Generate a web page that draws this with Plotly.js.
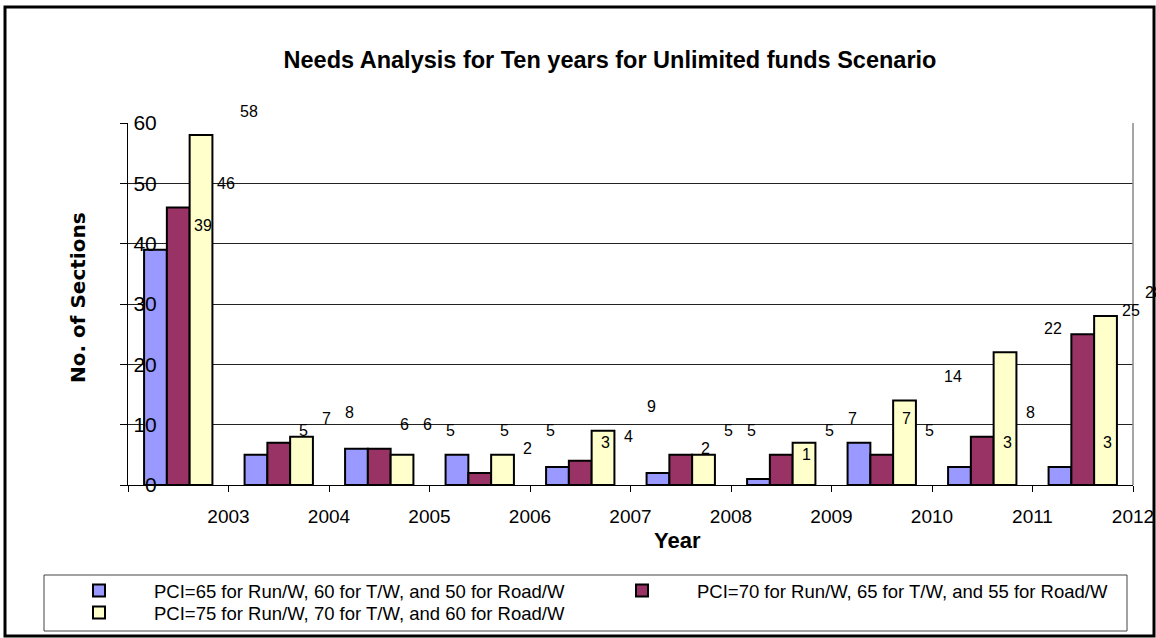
<!DOCTYPE html>
<html><head><meta charset="utf-8">
<script src="https://cdn.plot.ly/plotly-3.0.1.min.js"></script>
<style>html,body{margin:0;padding:0;background:#fff;overflow:hidden}#chart{width:1156px;height:638px}</style>
</head><body><div id="chart"></div>
<script>
// ---- data ----
const years = ['2003','2004','2005','2006','2007','2008','2009','2010','2011','2012'];
const seriesNames = [
  'PCI=65 for Run/W, 60 for T/W, and 50 for Road/W',
  'PCI=70 for Run/W, 65 for T/W, and 55 for Road/W',
  'PCI=75 for Run/W, 70 for T/W, and 60 for Road/W'
];
const pci65 = [39, 5, 6, 5, 3, 2, 1, 7, 3, 3];
const pci70 = [46, 7, 6, 2, 4, 5, 5, 5, 8, 25];
const pci75 = [58, 8, 5, 5, 9, 5, 7, 14, 22, 28];
const colors = ['#9999FF', '#993366', '#FFFFCC'];

// ---- layout helpers ----
const W = 1156, H = 638, L = 128, R = 23, T = 123, B = 153;
const pw = W - L - R, ph = H - T - B;
const px2x = p => (p - L) / pw;
const py2y = p => (H - B - p) / ph;
const FONT = 'Liberation Sans, Arial, sans-serif';

const idx = years.map((_, i) => i);
const series = [pci65, pci70, pci75];
const legendOf = ['legend', 'legend', 'legend2'];
const bargap = 0.32;
const barW = (1 - bargap) / 3;

const traces = series.map((vals, k) => ({
  type: 'bar', name: seriesNames[k], x: idx, y: vals, legend: legendOf[k],
  marker: {color: colors[k], line: {color: '#000', width: 2}},
  hovertemplate: '%{y}<extra></extra>'
}));

const annotations = [];
series.forEach((vals, k) => vals.forEach((v, i) => annotations.push({
  x: i + (k - 1) * barW, y: v, xref: 'x', yref: 'y', text: String(v),
  showarrow: false, xshift: 48, yshift: 24, font: {size: 16, color: '#000', family: FONT}
})));
annotations.push({
  xref: 'paper', yref: 'paper', x: px2x(677), y: py2y(555), text: 'Year', showarrow: false,
  font: {size: 22, color: '#000', family: FONT, weight: 'bold'}
});
annotations.push({
  xref: 'paper', yref: 'paper', x: px2x(64), y: py2y(298), text: 'No. of Sections', showarrow: false,
  textangle: -90, font: {size: 20, color: '#000', family: 'DejaVu Sans, sans-serif', weight: 'bold'}
});

const tickvals = [-0.5].concat(idx.map(i => i + 0.5));
const ticktext = [''].concat(years);

const legendBase = {
  orientation: 'h', xref: 'paper', yref: 'paper', xanchor: 'left', yanchor: 'top',
  borderwidth: 0, bgcolor: 'rgba(0,0,0,0)',
  font: {size: 18.5, family: FONT, color: '#000'},
  itemwidth: 100, entrywidth: 428, entrywidthmode: 'pixels', traceorder: 'normal'
};

const layout = {
  width: W, height: H,
  margin: {l: L, r: R, t: T, b: B, autoexpand: false},
  paper_bgcolor: '#fff', plot_bgcolor: '#fff',
  font: {family: FONT, color: '#000'},
  title: {
    text: 'Needs Analysis for Ten years for Unlimited funds Scenario',
    xref: 'container', yref: 'container', x: 610 / W, y: 1 - 60 / H,
    xanchor: 'center', yanchor: 'middle',
    font: {size: 23.5, family: FONT, color: '#000', weight: 'bold'}
  },
  barmode: 'group', bargap: bargap, bargroupgap: 0,
  xaxis: {
    range: [-0.5, 9.5], tickmode: 'array', tickvals: tickvals, ticktext: ticktext,
    showgrid: false, zeroline: false, showline: true, linecolor: '#000', linewidth: 1,
    ticks: 'outside', ticklen: 6, tickcolor: '#000', tickwidth: 1,
    tickfont: {size: 19, family: FONT, color: '#000'}, ticklabelstandoff: 8
  },
  yaxis: {
    range: [0, 60], dtick: 10, tick0: 0,
    showgrid: true, gridcolor: '#222', gridwidth: 1, zeroline: false,
    showline: true, linecolor: '#000', linewidth: 1,
    ticks: 'outside', ticklen: 7, tickcolor: '#000', tickwidth: 1,
    tickfont: {size: 21, family: FONT, color: '#000'}, ticklabelstandoff: -41
  },
  showlegend: true,
  legend: Object.assign({}, legendBase, {x: px2x(44), y: py2y(572)}),
  legend2: Object.assign({}, legendBase, {x: px2x(44), y: py2y(594)}),
  annotations: annotations,
  shapes: [
    {type: 'line', xref: 'paper', yref: 'paper', x0: 1, x1: 1, y0: 0, y1: 1, line: {color: '#888', width: 1.5}},
    {type: 'rect', xref: 'paper', yref: 'paper', x0: px2x(44), x1: px2x(1127), y0: py2y(575), y1: py2y(631),
     line: {color: '#444', width: 1}, fillcolor: 'rgba(0,0,0,0)', layer: 'below'},
    {type: 'rect', xref: 'paper', yref: 'paper', x0: px2x(5), x1: px2x(1154), y0: py2y(7), y1: py2y(636),
     line: {color: '#000', width: 3}, fillcolor: 'rgba(0,0,0,0)', layer: 'above'}
  ]
};

Plotly.newPlot('chart', traces, layout, {displayModeBar: false, responsive: false});
</script>
</body></html>
